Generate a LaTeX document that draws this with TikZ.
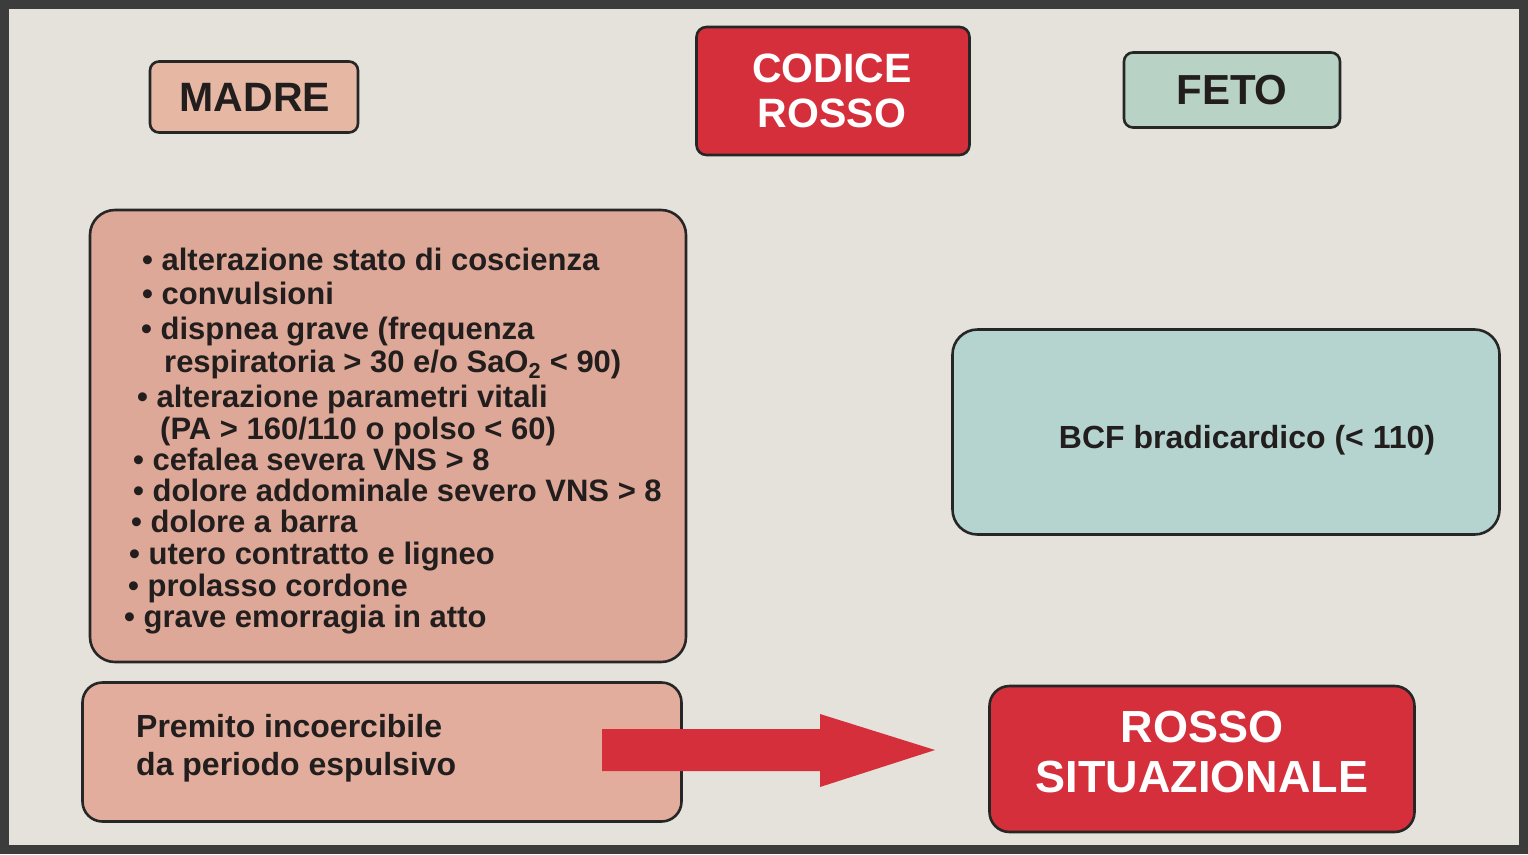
\documentclass[tikz,border=0pt]{standalone}
\usepackage{fontspec}
\setmainfont{Liberation Sans}
\begin{document}
\begin{tikzpicture}[x=1pt,y=-1pt,
  box/.style={draw=black!85, line width=2.6pt, rounded corners=#1, inner sep=0pt},
  box/.default=9pt,
  txt/.style={font=\bfseries, text=ink, inner sep=0pt},
  wtxt/.style={font=\bfseries, text=white, inner sep=0pt, align=center},
  item/.style={font=\bfseries\fontsize{31}{32}\selectfont, text=ink, inner sep=0pt, anchor=base west}
]
\definecolor{bg}{HTML}{E5E1DB}
\definecolor{frame}{HTML}{3C3C3C}
\definecolor{ink}{HTML}{231E1E}
\definecolor{madre}{HTML}{E6B8A4}
\definecolor{lista}{HTML}{DEA898}
\definecolor{premito}{HTML}{E2AD9D}
\definecolor{rosso}{HTML}{D62F3C}
\definecolor{feto}{HTML}{B8D2C6}
\definecolor{bcf}{HTML}{B5D4D0}
\useasboundingbox (0,0) rectangle (1528,854);
\fill[bg] (0,0) rectangle (1528,854);
\draw[frame, line width=9pt] (4.5,4.5) rectangle (1523.5,849.5);

% top row
\node[box=9pt, fill=madre, minimum width=208pt, minimum height=71pt] (madre) at (254,97) {};
\node[txt, font=\bfseries\fontsize{41}{41}\selectfont] (madreT) at (255,97) {MADRE};

\node[box=10pt, fill=rosso, minimum width=273pt, minimum height=128pt] (codice) at (833,91) {};
\node[wtxt, font=\bfseries\fontsize{41}{45}\selectfont] (codiceT) at (832,91) {CODICE\\ROSSO};

\node[box=9pt, fill=feto, minimum width=216pt, minimum height=75pt] (feto) at (1232,90) {};
\node[txt, font=\bfseries\fontsize{42}{42}\selectfont] (fetoT) at (1232,90) {FETO};

% list box
\node[box=25pt, fill=lista, minimum width=596pt, minimum height=452pt] (lista) at (388,436) {};
\node[item] (l1) at (142,270) {\textbullet\ alterazione stato di coscienza};
\node[item] (l2) at (142,304) {\textbullet\ convulsioni};
\node[item] (l3) at (141,339) {\textbullet\ dispnea grave (frequenza};
\node[item] (l3b) at (164,372) {respiratoria > 30 e/o SaO$_{\mathbf 2}$ < 90)};
\node[item] (l4) at (137,407) {\textbullet\ alterazione parametri vitali};
\node[item] (l4b) at (160,439) {(PA > 160/110 o polso < 60)};
\node[item] (l5) at (133,470) {\textbullet\ cefalea severa VNS > 8};
\node[item] (l6) at (133,501) {\textbullet\ dolore addominale severo VNS > 8};
\node[item] (l7) at (131,532) {\textbullet\ dolore a barra};
\node[item] (l8) at (129,564) {\textbullet\ utero contratto e ligneo};
\node[item] (l9) at (128,596) {\textbullet\ prolasso cordone};
\node[item] (l10) at (124,627) {\textbullet\ grave emorragia in atto};

% BCF box
\node[box=25pt, fill=bcf, minimum width=547pt, minimum height=205pt] (bcf) at (1226,432) {};
\node[txt, font=\bfseries\fontsize{32}{32}\selectfont] (bcfT) at (1247,440) {BCF bradicardico (< 110)};

% bottom row
\node[box=20pt, fill=premito, minimum width=599pt, minimum height=139pt] (premito) at (382,752) {};
\node[txt, font=\bfseries\fontsize{32}{38}\selectfont, align=left, anchor=west] (premitoT) at (136,748) {Premito incoercibile\\da periodo espulsivo};

\node[box=20pt, fill=rosso, minimum width=425pt, minimum height=146pt] (rossoS) at (1202,759) {};
\node[wtxt, font=\bfseries\fontsize{45}{50}\selectfont] (rossoT) at (1202,752) {ROSSO\\SITUAZIONALE};

% block arrow
\fill[rosso] (602,729) -- (820,729) -- (820,714) -- (935,750) -- (820,787) -- (820,771) -- (602,771) -- cycle;
\end{tikzpicture}
\end{document}
